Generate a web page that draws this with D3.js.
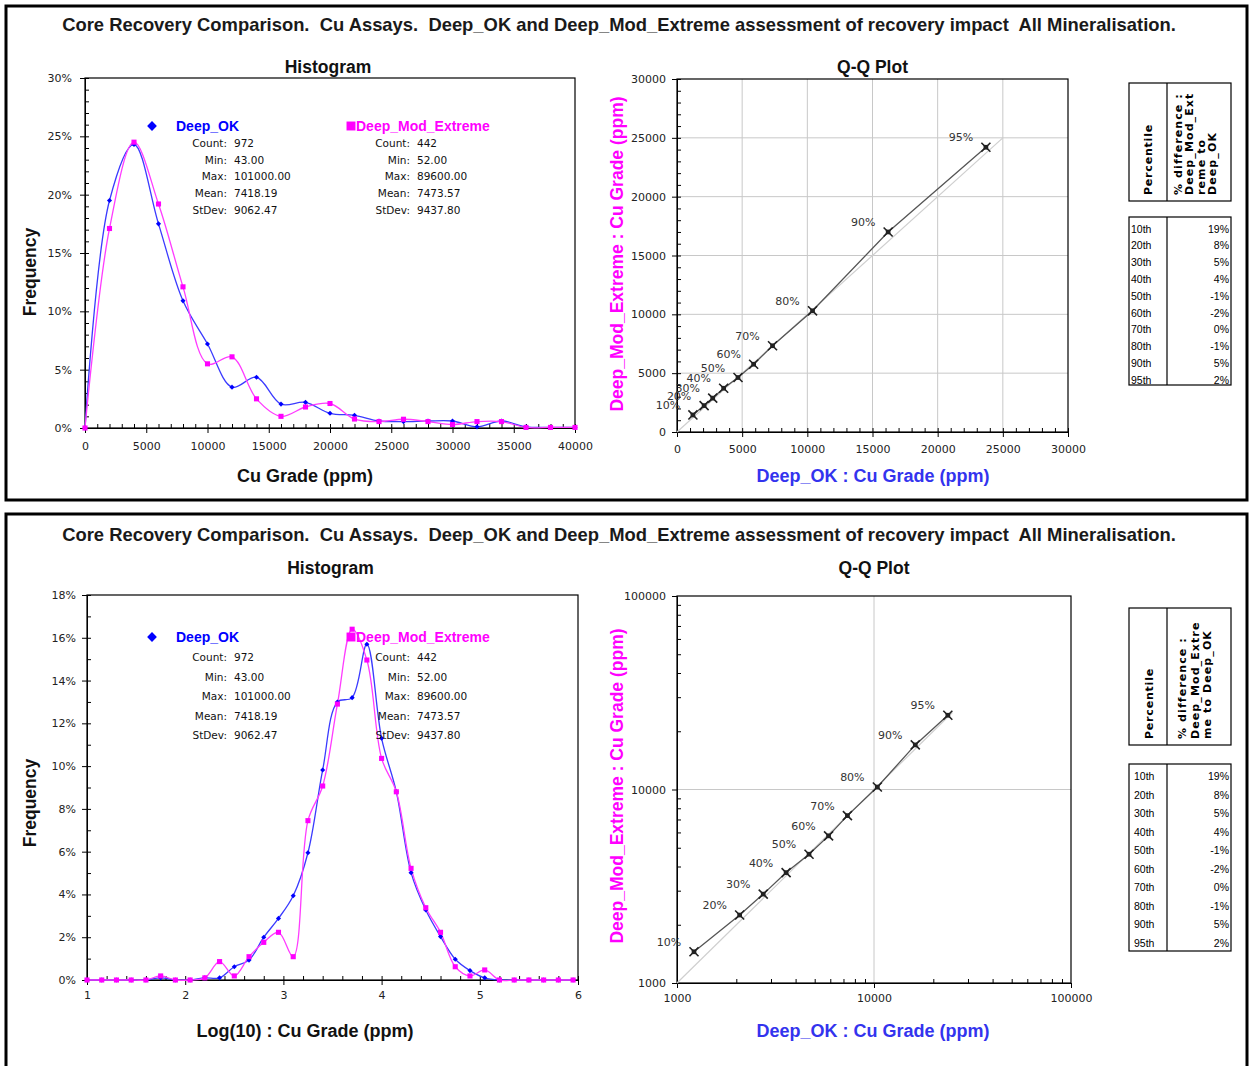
<!DOCTYPE html>
<html>
<head>
<meta charset="utf-8">
<script src="https://cdn.jsdelivr.net/npm/d3@7"></script>
<style>
  body { margin: 0; background: #fff; }
  svg { display: block; font-family: "Liberation Sans", Arial, sans-serif; }
</style>
</head>
<body>
<div id="chart"></div>
<script>
// ---- data ----
const chartTitle = "Core Recovery Comparison.  Cu Assays.  Deep_OK and Deep_Mod_Extreme assessment of recovery impact  All Mineralisation.";
const seriesNames = ["Deep_OK", "Deep_Mod_Extreme"];
const statLabels = ["Count:", "Min:", "Max:", "Mean:", "StDev:"];
const okStats = ["972", "43.00", "101000.00", "7418.19", "9062.47"];
const modStats = ["442", "52.00", "89600.00", "7473.57", "9437.80"];

// histogram of raw grades (percent of samples)
const gradeBins = [0, 2000, 4000, 6000, 8000, 10000, 12000, 14000, 16000, 18000, 20000,
  22000, 24000, 26000, 28000, 30000, 32000, 34000, 36000, 38000, 40000];
const gradeOK = [0, 19.5, 24.3, 17.5, 10.9, 7.2, 3.5, 4.35, 2.05, 2.2, 1.26,
  1.09, 0.6, 0.55, 0.6, 0.6, 0.1, 0.6, 0.1, 0.05, 0.05];
const gradeMod = [0, 17.1, 24.5, 19.2, 12.1, 5.5, 6.1, 2.5, 1.0, 1.8, 2.1,
  0.77, 0.55, 0.75, 0.55, 0.3, 0.55, 0.55, 0.05, 0.05, 0.05];

// histogram of log10 grades
const logBins = [1.00, 1.15, 1.30, 1.45, 1.60, 1.75, 1.90, 2.05, 2.20, 2.35, 2.50, 2.65,
  2.80, 2.95, 3.10, 3.25, 3.40, 3.55, 3.70, 3.85, 4.00, 4.15, 4.30, 4.45, 4.60, 4.75,
  4.90, 5.05, 5.20, 5.35, 5.50, 5.65, 5.80, 5.95];
const logOK = [0, 0, 0, 0, 0, 0.1, 0, 0, 0.1, 0.1, 0.62, 0.93,
  2.0, 2.88, 3.94, 5.95, 9.82, 13.0, 13.2, 15.7, 11.3, 8.8, 5.02, 3.27, 2.03, 0.97,
  0.44, 0.1, 0, 0, 0, 0, 0, 0];
const logMod = [0, 0, 0, 0, 0, 0.19, 0, 0, 0.1, 0.86, 0.19, 1.09,
  1.76, 2.23, 1.09, 7.45, 9.07, 12.9, 16.4, 14.96, 10.36, 8.8, 5.22, 3.38, 2.23, 0.62,
  0.19, 0.47, 0, 0, 0, 0, 0, 0];

// Q-Q percentiles
const qqLabels = ["10%", "20%", "30%", "40%", "50%", "60%", "70%", "80%", "90%", "95%"];
const qqOK = [1220, 2080, 2740, 3580, 4680, 5880, 7330, 10400, 16200, 23700];
const qqMod = [1450, 2245, 2880, 3720, 4630, 5760, 7330, 10300, 17000, 24200];

// percentile table
const tableRows = ["10th", "20th", "30th", "40th", "50th", "60th", "70th", "80th", "90th", "95th"];
const tableDiff = ["19%", "8%", "5%", "4%", "-1%", "-2%", "0%", "-1%", "5%", "2%"];
const headTop = ["% difference :", "Deep_Mod_Ext", "reme to", "Deep_OK"];
const headBottom = ["% difference :", "Deep_Mod_Extre", "me to Deep_OK"];

// tick labels
const gradeTicks = [0, 5000, 10000, 15000, 20000, 25000, 30000, 35000, 40000];
const gradePctTicks = [0, 0.05, 0.10, 0.15, 0.20, 0.25, 0.30];
const logTicks = [1, 2, 3, 4, 5, 6];
const logPctTicks = [0, 0.02, 0.04, 0.06, 0.08, 0.10, 0.12, 0.14, 0.16, 0.18];
const qqLinTicks = [0, 5000, 10000, 15000, 20000, 25000, 30000];
const qqLogTicks = [1000, 10000, 100000];

const blue = "#0000ff", blueLine = "#3a3aff", magenta = "#ff00ff", magLine = "#ff3cff";
const tickFont = "DejaVu Sans";

const svg = d3.select("#chart").append("svg")
  .attr("width", 1251)
  .attr("height", 1066);

function styleAxis(g, fontSize) {
  g.attr("font-family", tickFont).attr("font-size", fontSize || 11);
  g.selectAll("text").attr("fill", "#222");
  g.selectAll("line").attr("stroke", "#000");
  g.select(".domain").attr("stroke", "#000");
}

function minorAxis(parent, axisFn, scale, values, transform) {
  const g = parent.append("g")
    .attr("transform", transform)
    .call(axisFn(scale).tickValues(values).tickSize(-4).tickFormat(() => ""));
  g.select(".domain").remove();
  g.selectAll("line").attr("stroke", "#000");
}

function drawHistogram(root, c) {
  const x = d3.scaleLinear().domain(c.xDomain).range([c.left, c.right]);
  const y = d3.scaleLinear().domain(c.yDomain).range([c.bottom, c.top]);

  // frame
  root.append("rect")
    .attr("x", c.left).attr("y", c.top)
    .attr("width", c.right - c.left).attr("height", c.bottom - c.top)
    .attr("fill", "none").attr("stroke", "#000").attr("stroke-width", 1.2);

  minorAxis(root, d3.axisBottom, x, c.xMinor, `translate(0,${c.bottom})`);
  minorAxis(root, d3.axisLeft, y, c.yMinor, `translate(${c.left},0)`);

  root.append("g")
    .attr("transform", `translate(0,${c.bottom})`)
    .call(d3.axisBottom(x).tickValues(c.xTicks).tickSize(5).tickPadding(c.xPad).tickFormat(c.xFormat))
    .call(styleAxis);
  root.append("g")
    .attr("transform", `translate(${c.left},0)`)
    .call(d3.axisLeft(y).tickValues(c.yTicks).tickSize(5).tickPadding(c.yPad).tickFormat(d3.format(".0%")))
    .call(styleAxis);

  // titles
  root.append("text")
    .attr("x", (c.left + c.right) / 2 - 2).attr("y", c.titleY)
    .attr("text-anchor", "middle").attr("font-weight", "bold").attr("font-size", 17.5)
    .attr("fill", "#111").text("Histogram");
  root.append("text")
    .attr("x", c.xTitleX).attr("y", c.xTitleY)
    .attr("text-anchor", "middle").attr("font-weight", "bold").attr("font-size", 18)
    .attr("fill", "#111").text(c.xTitle);
  root.append("text")
    .attr("transform", `translate(36,${c.freqY}) rotate(-90)`)
    .attr("text-anchor", "middle").attr("font-weight", "bold").attr("font-size", 17.5)
    .attr("fill", "#111").text("Frequency");

  const line = d3.line()
    .x((d) => x(d[0]))
    .y((d) => y(d[1] / 100))
    .curve(d3.curveCatmullRom.alpha(0.5));

  const okPts = c.bins.map((b, i) => [b, c.ok[i]]);
  const modPts = c.bins.map((b, i) => [b, c.mod[i]]);

  root.append("path").datum(okPts)
    .attr("d", line).attr("fill", "none").attr("stroke", blueLine).attr("stroke-width", 1.3);
  root.append("path").datum(modPts)
    .attr("d", line).attr("fill", "none").attr("stroke", magLine).attr("stroke-width", 1.3);

  root.append("g").selectAll("path")
    .data(okPts).join("path")
    .attr("d", d3.symbol(d3.symbolSquare, 13))
    .attr("transform", (d) => `translate(${x(d[0])},${y(d[1] / 100)}) rotate(45)`)
    .attr("fill", blue);
  root.append("g").selectAll("path")
    .data(modPts).join("path")
    .attr("d", d3.symbol(d3.symbolSquare, 26))
    .attr("transform", (d) => `translate(${x(d[0])},${y(d[1] / 100)})`)
    .attr("fill", magenta);

  // legends
  const legends = [
    { name: seriesNames[0], stats: okStats, color: blue, symX: 152, textX: 176, labelEnd: 227, valX: 234, diamond: true },
    { name: seriesNames[1], stats: modStats, color: magenta, symX: 351, textX: 356, labelEnd: 410, valX: 417, diamond: false },
  ];
  legends.forEach((lg) => {
    const g = root.append("g");
    g.append("path")
      .attr("d", d3.symbol(d3.symbolSquare, lg.diamond ? 48 : 80))
      .attr("transform", `translate(${lg.symX},${c.legendY})` + (lg.diamond ? " rotate(45)" : ""))
      .attr("fill", lg.color);
    g.append("text")
      .attr("x", lg.textX).attr("y", c.legendY + 5)
      .attr("font-weight", "bold").attr("font-size", 14).attr("fill", lg.color)
      .text(lg.name);
    statLabels.forEach((s, i) => {
      const yy = c.legendY + c.statFirst + i * c.statStep;
      g.append("text")
        .attr("x", lg.labelEnd).attr("y", yy)
        .attr("text-anchor", "end").attr("font-family", tickFont).attr("font-size", 10.5)
        .attr("fill", "#111").text(s);
      g.append("text")
        .attr("x", lg.valX).attr("y", yy)
        .attr("font-family", tickFont).attr("font-size", 10.5)
        .attr("fill", "#111").text(lg.stats[i]);
    });
  });
}

function drawQQ(root, c) {
  const x = c.log ? d3.scaleLog() : d3.scaleLinear();
  const y = c.log ? d3.scaleLog() : d3.scaleLinear();
  x.domain(c.domain).range([c.left, c.right]);
  y.domain(c.domain).range([c.bottom, c.top]);

  // grid
  const grid = root.append("g").attr("stroke", "#c8c8c8").attr("stroke-width", 1);
  c.grid.forEach((v) => {
    grid.append("line").attr("x1", x(v)).attr("x2", x(v)).attr("y1", c.top).attr("y2", c.bottom);
    grid.append("line").attr("x1", c.left).attr("x2", c.right).attr("y1", y(v)).attr("y2", y(v));
  });

  root.append("rect")
    .attr("x", c.left).attr("y", c.top)
    .attr("width", c.right - c.left).attr("height", c.bottom - c.top)
    .attr("fill", "none").attr("stroke", "#000").attr("stroke-width", 1.2);

  minorAxis(root, d3.axisBottom, x, c.minor, `translate(0,${c.bottom})`);
  minorAxis(root, d3.axisLeft, y, c.minor, `translate(${c.left},0)`);

  root.append("g")
    .attr("transform", `translate(0,${c.bottom})`)
    .call(d3.axisBottom(x).tickValues(c.ticks).tickSize(5).tickPadding(c.xPad).tickFormat(d3.format("d")))
    .call(styleAxis);
  root.append("g")
    .attr("transform", `translate(${c.left},0)`)
    .call(d3.axisLeft(y).tickValues(c.ticks).tickSize(5).tickPadding(c.yPad).tickFormat(d3.format("d")))
    .call(styleAxis);

  // 1:1 reference line
  root.append("line")
    .attr("x1", x(c.diag[0])).attr("y1", y(c.diag[0]))
    .attr("x2", x(c.diag[1])).attr("y2", y(c.diag[1]))
    .attr("stroke", "#cfcfcf").attr("stroke-width", 1.2);

  const pts = qqOK.map((v, i) => [v, qqMod[i], qqLabels[i]]);
  root.append("path").datum(pts)
    .attr("d", d3.line().x((d) => x(d[0])).y((d) => y(d[1])))
    .attr("fill", "none").attr("stroke", "#555").attr("stroke-width", 1.3);

  const mk = root.append("g").selectAll("g").data(pts).join("g")
    .attr("transform", (d) => `translate(${x(d[0])},${y(d[1])})`);
  mk.append("path").attr("d", d3.symbol(d3.symbolSquare, 22)).attr("fill", "#222");
  mk.append("path").attr("d", d3.symbol(d3.symbolX, 55))
    .attr("fill", "none").attr("stroke", "#222").attr("stroke-width", 1.6);

  root.append("g").selectAll("text").data(pts).join("text")
    .attr("x", (d) => x(d[0]) - 25)
    .attr("y", (d) => y(d[1]) - 6)
    .attr("text-anchor", "middle").attr("font-family", tickFont).attr("font-size", 11)
    .attr("fill", "#333").text((d) => d[2]);

  root.append("text")
    .attr("x", (c.left + c.right) / 2).attr("y", c.titleY)
    .attr("text-anchor", "middle").attr("font-weight", "bold").attr("font-size", 17.5)
    .attr("fill", "#111").text("Q-Q Plot");
  root.append("text")
    .attr("x", 873).attr("y", c.xTitleY)
    .attr("text-anchor", "middle").attr("font-weight", "bold").attr("font-size", 18)
    .attr("fill", "#3333ee").text("Deep_OK : Cu Grade (ppm)");
  root.append("text")
    .attr("transform", `translate(623,${c.yTitleY}) rotate(-90)`)
    .attr("text-anchor", "middle").attr("font-weight", "bold").attr("font-size", 17.5)
    .attr("fill", magenta).text("Deep_Mod_Extreme : Cu Grade (ppm)");
}

function drawTable(root, c) {
  const l = 1129, r = 1231, split = 1167;
  [[c.headTop, c.headBottom], [c.bodyTop, c.bodyBottom]].forEach(([t, b]) => {
    root.append("rect").attr("x", l).attr("y", t).attr("width", r - l).attr("height", b - t)
      .attr("fill", "#fff").attr("stroke", "#000").attr("stroke-width", 1.2);
    root.append("line").attr("x1", split).attr("x2", split).attr("y1", t).attr("y2", b)
      .attr("stroke", "#000").attr("stroke-width", 1.2);
  });
  root.append("text")
    .attr("transform", `translate(${c.pctX},${c.headBottom - 6}) rotate(-90)`)
    .attr("font-family", tickFont).attr("font-weight", "bold").attr("font-size", 11)
    .attr("letter-spacing", 0.8).attr("fill", "#000").text("Percentile");
  c.lines.forEach((s, i) => {
    root.append("text")
      .attr("transform", `translate(${c.lineX[i]},${c.headBottom - 6}) rotate(-90)`)
      .attr("font-family", tickFont).attr("font-weight", "bold").attr("font-size", 11)
      .attr("letter-spacing", 1.1).attr("fill", "#000").text(s);
  });
  tableRows.forEach((row, i) => {
    const yy = c.rowFirst + i * c.rowStep;
    root.append("text").attr("x", c.rowX).attr("y", yy)
      .attr("font-size", 10.5).attr("fill", "#000").text(row);
    root.append("text").attr("x", 1229).attr("y", yy).attr("text-anchor", "end")
      .attr("font-size", 10.5).attr("fill", "#000").text(tableDiff[i]);
  });
}

function drawPanel(p) {
  const root = svg.append("g");
  root.append("rect")
    .attr("x", 6).attr("y", p.boxTop).attr("width", 1241).attr("height", p.boxHeight)
    .attr("fill", "#fff").attr("stroke", "#000").attr("stroke-width", 3);
  root.append("text")
    .attr("x", 619).attr("y", p.titleY)
    .attr("text-anchor", "middle").attr("font-weight", "bold").attr("font-size", 18.4)
    .attr("fill", "#1a1a1a").style("white-space", "pre")
    .text(chartTitle);
  drawHistogram(root, p.hist);
  drawQQ(root, p.qq);
  drawTable(root, p.table);
}

// top panel: raw grades
drawPanel({
  boxTop: 6, boxHeight: 494, titleY: 31,
  hist: {
    left: 85, right: 575, top: 78, bottom: 428,
    xDomain: [0, 40000], yDomain: [0, 0.30],
    xTicks: gradeTicks, yTicks: gradePctTicks,
    xMinor: d3.range(0, 40001, 1000), yMinor: d3.range(0, 0.3001, 0.01),
    xPad: 9, yPad: 8, xFormat: d3.format("d"),
    bins: gradeBins, ok: gradeOK, mod: gradeMod,
    titleY: 73, xTitle: "Cu Grade (ppm)", xTitleX: 305, xTitleY: 482, freqY: 272,
    legendY: 126, statFirst: 21, statStep: 16.7,
  },
  qq: {
    log: false, left: 677, right: 1068, top: 79, bottom: 432,
    domain: [0, 30000], ticks: qqLinTicks, grid: [5000, 10000, 15000, 20000, 25000],
    minor: d3.range(0, 30001, 1000), diag: [0, 25000],
    xPad: 8, yPad: 6, titleY: 73, xTitleY: 482, yTitleY: 254,
  },
  table: {
    headTop: 83, headBottom: 201, bodyTop: 217, bodyBottom: 385,
    pctX: 1152, lines: headTop, lineX: [1182, 1193, 1205, 1216],
    rowX: 1131, rowFirst: 232.5, rowStep: 16.8,
  },
});

// bottom panel: log10 grades
drawPanel({
  boxTop: 514, boxHeight: 600, titleY: 541,
  hist: {
    left: 87, right: 578, top: 595, bottom: 980,
    xDomain: [1, 6], yDomain: [0, 0.18],
    xTicks: logTicks, yTicks: logPctTicks,
    xMinor: d3.range(1, 6.001, 0.2), yMinor: d3.range(0, 0.1801, 0.01),
    xPad: 6, yPad: 6, xFormat: d3.format("d"),
    bins: logBins, ok: logOK, mod: logMod,
    titleY: 574, xTitle: "Log(10) : Cu Grade (ppm)", xTitleX: 305, xTitleY: 1037, freqY: 803,
    legendY: 637, statFirst: 24, statStep: 19.5,
  },
  qq: {
    log: true, left: 677, right: 1071, top: 596, bottom: 983,
    domain: [1000, 100000], ticks: qqLogTicks, grid: [10000],
    minor: [2000, 3000, 4000, 5000, 6000, 7000, 8000, 9000, 20000, 30000, 40000, 50000, 60000, 70000, 80000, 90000],
    diag: [1000, 25000],
    xPad: 6, yPad: 6, titleY: 574, xTitleY: 1037, yTitleY: 786,
  },
  table: {
    headTop: 608, headBottom: 745, bodyTop: 764, bodyBottom: 951,
    pctX: 1153, lines: headBottom, lineX: [1186, 1199, 1211],
    rowX: 1134, rowFirst: 780, rowStep: 18.5,
  },
});
</script>
</body>
</html>
